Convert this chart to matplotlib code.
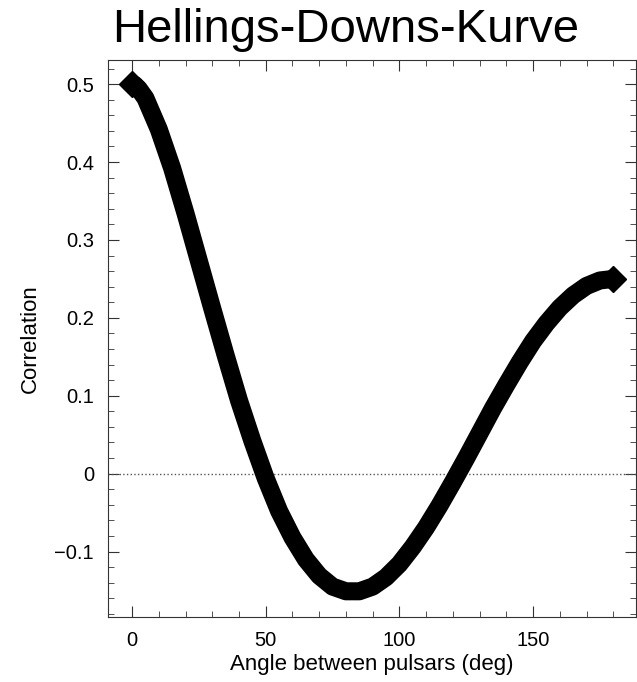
import matplotlib
matplotlib.use("Agg")
import matplotlib.pyplot as plt
from matplotlib.ticker import MultipleLocator

plt.rcParams["font.family"] = ["Liberation Sans", "DejaVu Sans"]

# values
angle_deg = [0, 1, 2.5, 5, 10, 15, 20, 25, 30, 35, 40, 45, 50, 55, 60, 65,
             70, 75, 80, 85, 90, 95, 100, 105, 110, 115, 120, 125, 130, 135,
             140, 145, 150, 155, 160, 165, 170, 175, 180]
correlation = [0.500, 0.499, 0.494, 0.482, 0.442, 0.392, 0.334, 0.273, 0.212,
               0.152, 0.094, 0.042, -0.006, -0.048, -0.082, -0.110, -0.131,
               -0.145, -0.151, -0.151, -0.145, -0.133, -0.116, -0.094, -0.069,
               -0.041, -0.011, 0.020, 0.052, 0.084, 0.114, 0.143, 0.170,
               0.193, 0.213, 0.229, 0.241, 0.248, 0.250]

fig = plt.figure(figsize=(6.37, 6.82), dpi=100)
ax = fig.add_axes([108 / 637, 1 - 617 / 682, (636 - 108) / 637, (617 - 60) / 682])

ax.axhline(0, color="#555555", linestyle=":", linewidth=1)
ax.plot(angle_deg, correlation, color="black", linewidth=13,
        solid_capstyle="butt", marker="D", markersize=13, markevery=[0, -1])

ax.set_xlim(-9, 188.5)
ax.set_ylim(-0.184, 0.531)
ax.xaxis.set_major_locator(MultipleLocator(50))
ax.xaxis.set_minor_locator(MultipleLocator(10))
ax.yaxis.set_major_locator(MultipleLocator(0.1))
ax.yaxis.set_minor_locator(MultipleLocator(0.02))
ax.tick_params(which="both", direction="in", top=True, right=True,
               labelsize=14.5, color="#333333")
ax.tick_params(which="major", length=8, pad=10)
ax.tick_params(which="minor", length=4)
for s in ax.spines.values():
    s.set_color("#333333")

ax.yaxis.set_major_formatter(plt.FuncFormatter(
    lambda v, p: "0" if abs(v) < 1e-9 else ("%.1f" % v).replace("-", "\u2212")))

ax.set_xlabel("Angle between pulsars (deg)", fontsize=16, labelpad=3)
ax.set_ylabel("Correlation", fontsize=16, labelpad=10)

fig.text(346 / 637, 1 - 42 / 682, "Hellings-Downs-Kurve", fontsize=34,
         ha="center", va="baseline")

fig.savefig("out.png", dpi=100)
